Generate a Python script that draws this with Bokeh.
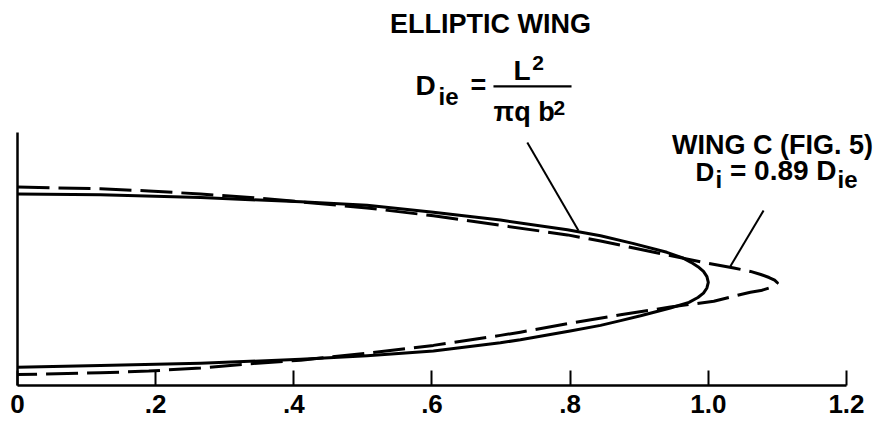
from bokeh.plotting import figure
from bokeh.models import FixedTicker, Label, Range1d
from bokeh.embed import file_html
from bokeh.resources import INLINE

# Spanwise load curves: x = relative load, y = span station (centre line = 0)
# Elliptic wing, traced from the upper branch to the tip and back
elliptic_x = [0.00, 0.12, 0.265, 0.41, 0.506, 0.602, 0.699, 0.796, 0.844, 0.892,
              0.94, 0.963, 0.975, 0.985, 0.993, 0.998, 1.000,
              0.998, 0.993, 0.985, 0.972, 0.945, 0.902, 0.873, 0.844, 0.80,
              0.728, 0.699, 0.602, 0.506, 0.41, 0.265, 0.12, 0.00]
elliptic_y = [1.00, 0.99, 0.96, 0.91, 0.87, 0.79, 0.70, 0.59, 0.52, 0.43,
              0.33, 0.265, 0.215, 0.165, 0.11, 0.05, -0.015,
              -0.08, -0.14, -0.19, -0.245, -0.31, -0.40, -0.455, -0.51, -0.575,
              -0.675, -0.71, -0.805, -0.86, -0.90, -0.945, -0.97, -0.99]

# Wing C (Fig. 5)
wing_c_x = [0.00, 0.12, 0.19, 0.265, 0.337, 0.41, 0.506, 0.602, 0.699, 0.796,
            0.844, 0.892, 0.94, 0.989, 1.037, 1.061, 1.076, 1.088, 1.096, 1.100,
            1.096, 1.088, 1.076, 1.061, 1.047, 1.008, 0.945, 0.873, 0.80, 0.728,
            0.699, 0.602, 0.506, 0.41, 0.337, 0.265, 0.19, 0.12, 0.00]
wing_c_y = [1.08, 1.06, 1.035, 1.00, 0.96, 0.91, 0.84, 0.75, 0.64, 0.53,
            0.46, 0.38, 0.30, 0.22, 0.15, 0.11, 0.075, 0.04, 0.01, -0.02,
            -0.05, -0.08, -0.11, -0.13, -0.155, -0.232, -0.30, -0.389, -0.485, -0.588,
            -0.625, -0.74, -0.83, -0.91, -0.95, -1.00, -1.035, -1.055, -1.075]

tick_values = [0.0, 0.2, 0.4, 0.6, 0.8, 1.0, 1.2]
tick_labels = ["0", ".2", ".4", ".6", ".8", "1.0", "1.2"]

FONT = "Liberation Sans"
PX_PER_Y = 87.0          # vertical scale of the frame, pixels per span unit
Y_BOTTOM = -1.201
Y_TOP = 3.224
Y_AXIS_TOP = 1.707
X_END = 1.2565           # frame runs past the last tick to leave room for notes

p = figure(width=885, height=423, output_backend="svg", toolbar_location=None,
           x_range=Range1d(0.0, X_END), y_range=Range1d(Y_BOTTOM, Y_TOP),
           min_border_left=17, min_border_right=0, min_border_top=0,
           min_border_bottom=38)
p.outline_line_color = None
p.grid.visible = False
p.background_fill_color = "white"
p.border_fill_color = "white"

# x axis: inward ticks, bold labels, line stops at the last tick
xa = p.xaxis[0]
xa.ticker = FixedTicker(ticks=tick_values)
xa.bounds = (0.0, 1.2)
xa.major_label_overrides = {v: s for v, s in zip(tick_values, tick_labels)}
xa.axis_line_width = 2.5
xa.axis_line_color = "black"
xa.major_tick_in = 15
xa.major_tick_out = 0
xa.major_tick_line_width = 2
xa.major_tick_line_color = "black"
xa.minor_tick_line_color = None
xa.major_label_text_font = FONT
xa.major_label_text_font_style = "bold"
xa.major_label_text_font_size = "26px"
xa.major_label_text_color = "black"
xa.major_label_standoff = 9

# y axis: bare line, no ticks or labels
ya = p.yaxis[0]
ya.ticker = FixedTicker(ticks=[])
ya.bounds = (Y_BOTTOM, Y_AXIS_TOP)
ya.axis_line_width = 2.5
ya.axis_line_color = "black"
ya.major_tick_in = 0
ya.major_tick_out = 0
ya.minor_tick_line_color = None
ya.major_label_standoff = 0

# load curves
p.line(elliptic_x, elliptic_y, line_color="black", line_width=3,
       line_join="round", line_cap="round")
p.line(wing_c_x, wing_c_y, line_color="black", line_width=3,
       line_dash="32 9", line_join="round")

# leader lines
p.line([0.738, 0.812], [1.592, 0.58], line_color="black", line_width=2)
p.line([1.080, 1.032], [0.810, 0.17], line_color="black", line_width=2)


def label(x, baseline, text, size, align="left"):
    """Place bold text so that its alphabetic baseline sits at `baseline`."""
    y = baseline + 0.34 * size / PX_PER_Y
    p.add_layout(Label(x=x, y=y, text=text, text_font=FONT,
                       text_font_style="bold", text_font_size=f"{size}px",
                       text_color="black", text_align=align,
                       text_baseline="middle"))


# elliptic wing annotation
label(0.6847, 2.845, "ELLIPTIC WING", 27, "center")
label(0.5761, 2.132, "D", 28)
label(0.6094, 2.029, "ie", 24)
label(0.6673, 2.144, "=", 27, "center")
p.line([0.689, 0.802], [2.236, 2.236], line_color="black", line_width=2.2)
label(0.718, 2.305, "L", 28)
label(0.745, 2.420, "2", 21)
label(0.689, 1.833, "\u03c0q b", 27)
label(0.776, 1.903, "2", 21)

# wing C annotation
label(1.0929, 1.454, "WING C (FIG. 5)", 27, "center")
label(0.9814, 1.155, "D", 26)
label(1.0104, 1.075, "i", 24)
label(1.0313, 1.155, "= 0.89 D", 28)
label(1.187, 1.075, "ie", 24)

open("out.html", "w").write(file_html(p, INLINE))
